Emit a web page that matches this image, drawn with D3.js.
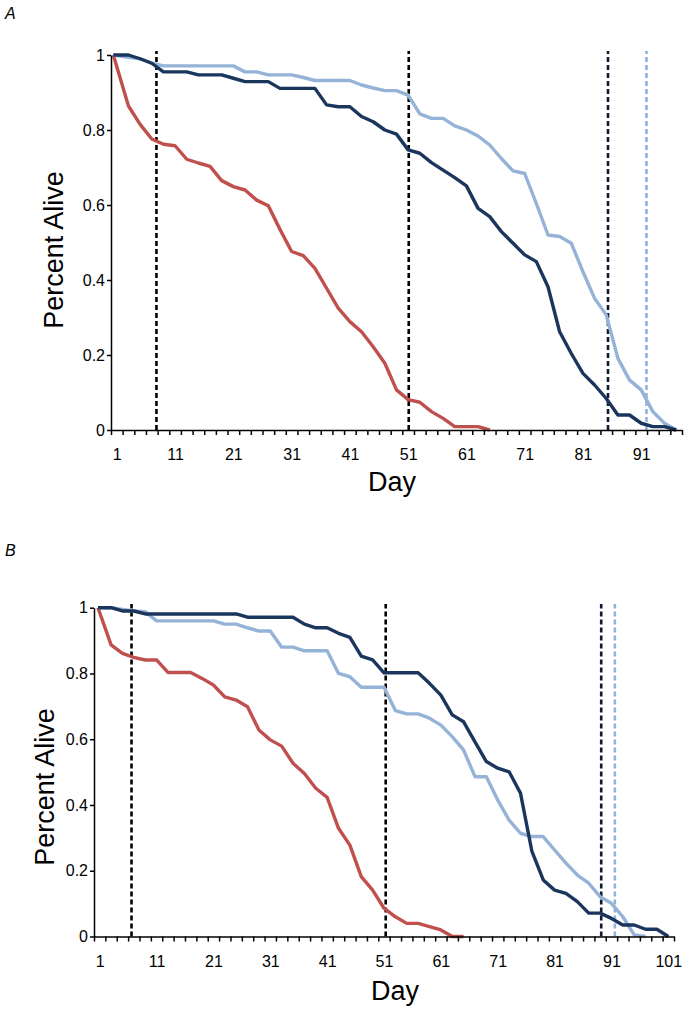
<!DOCTYPE html>
<html>
<head>
<meta charset="utf-8">
<script src="https://cdn.jsdelivr.net/npm/d3@7"></script>
<style>
  html, body { margin: 0; padding: 0; background: #fff; }
  svg { display: block; font-family: Arial, "Liberation Sans", sans-serif; }
</style>
</head>
<body>
<svg id="chart" width="689" height="1010"></svg>
<script>
// ---------- Panel A data ----------
const daysA = [0.4,3,5,7,9,11,13,15,17,19,21,23,25,27,29,31,33,35,37,39,41,43,45,47,49,51,53,55,57,59,61,63,65,67,69,71,73,75,77,79,81,83,85,87,89,91,93,95,97];
const redA = [1,0.864,0.815,0.776,0.762,0.758,0.722,0.712,0.703,0.665,0.649,0.64,0.613,0.598,0.535,0.476,0.465,0.431,0.378,0.325,0.289,0.262,0.222,0.178,0.107,0.081,0.074,0.049,0.031,0.009,0.009,0.009,0,null,null,null,null,null,null,null,null,null,null,null,null,null,null,null,null];
const navyA = [1,1,0.99,0.978,0.955,0.955,0.955,0.947,0.947,0.947,0.938,0.929,0.929,0.929,0.911,0.911,0.911,0.911,0.867,0.862,0.862,0.836,0.822,0.8,0.789,0.747,0.738,0.713,0.693,0.673,0.651,0.591,0.569,0.529,0.498,0.467,0.449,0.382,0.262,0.204,0.151,0.12,0.084,0.04,0.04,0.018,0.009,0.009,0];
const lightA = [1,0.994,0.99,0.978,0.971,0.971,0.971,0.971,0.971,0.971,0.971,0.955,0.955,0.947,0.947,0.947,0.94,0.932,0.932,0.932,0.932,0.92,0.912,0.905,0.905,0.893,0.843,0.831,0.831,0.811,0.8,0.784,0.76,0.724,0.691,0.684,0.604,0.52,0.516,0.498,0.422,0.351,0.307,0.191,0.133,0.107,0.049,0.018,0];
const refDaysA = [7.8, 51.1, 85.3, 91.9];

// ---------- Panel B data ----------
const daysB = [0.7,3,5,7,9,11,13,15,17,19,21,23,25,27,29,31,33,35,37,39,41,43,45,47,49,51,53,55,57,59,61,63,65,67,69,71,73,75,77,79,81,83,85,87,89,91,93,95,97,99,101];
const redB = [1,0.887,0.861,0.849,0.841,0.841,0.803,0.803,0.803,0.785,0.765,0.729,0.719,0.699,0.628,0.598,0.579,0.527,0.496,0.451,0.423,0.329,0.278,0.182,0.141,0.086,0.06,0.04,0.04,0.03,0.02,0,0,null,null,null,null,null,null,null,null,null,null,null,null,null,null,null,null,null,null];
const navyB = [1,1,0.99,0.99,0.981,0.981,0.981,0.981,0.981,0.981,0.981,0.981,0.981,0.971,0.971,0.971,0.971,0.971,0.95,0.939,0.939,0.922,0.91,0.853,0.841,0.802,0.802,0.802,0.802,0.77,0.734,0.674,0.653,0.592,0.532,0.512,0.501,0.436,0.26,0.172,0.141,0.131,0.106,0.071,0.071,0.055,0.035,0.035,0.022,0.022,0];
const lightB = [1,1,0.995,0.99,0.988,0.96,0.96,0.96,0.96,0.96,0.96,0.95,0.95,0.939,0.929,0.929,0.88,0.88,0.869,0.869,0.869,0.8,0.79,0.758,0.758,0.758,0.687,0.677,0.677,0.664,0.643,0.608,0.567,0.486,0.486,0.415,0.354,0.314,0.304,0.304,0.263,0.223,0.187,0.162,0.121,0.101,0.06,0.005,0,null,null];
const refDaysB = [6.6, 51.3, 89.2, 91.6];

// ---------- Tick labels ----------
const yTicks = [0, 0.2, 0.4, 0.6, 0.8, 1];
const xLabelsA = [1, 11, 21, 31, 41, 51, 61, 71, 81, 91];
const xLabelsB = [1, 11, 21, 31, 41, 51, 61, 71, 81, 91, 101];
const yTitle = "Percent Alive";
const xTitle = "Day";

const COL_RED = "#c0504d", COL_NAVY = "#1b365d", COL_LIGHT = "#95b3d7";
const refColors = ["#000000", "#000000", "#0d1b33", "#8fb3e0"];

const svg = d3.select("#chart");

function panel(cfg) {
  const g = svg.append("g");
  const x = d3.scaleLinear().domain(cfg.xDomain).range(cfg.xRange);
  const y = d3.scaleLinear().domain([0, 1]).range(cfg.yRange);

  // panel letter
  g.append("text").attr("x", 5).attr("y", cfg.letterY)
    .attr("font-size", 16).attr("font-style", "italic").text(cfg.letter);

  // reference dashed lines
  g.selectAll("line.ref").data(cfg.refs).enter().append("line")
    .attr("x1", d => x(d)).attr("x2", d => x(d))
    .attr("y1", y(0)).attr("y2", y(1.011))
    .attr("stroke", (d, i) => refColors[i])
    .attr("stroke-width", 2.6)
    .attr("stroke-dasharray", "5,3");

  // curves
  const series = [
    { v: cfg.red, c: COL_RED },
    { v: cfg.light, c: COL_LIGHT },
    { v: cfg.navy, c: COL_NAVY }
  ];
  const line = d3.line()
    .defined(d => d[1] != null)
    .x(d => x(d[0])).y(d => y(d[1]));
  series.forEach(s => {
    g.append("path")
      .datum(cfg.days.map((d, i) => [d, s.v[i]]))
      .attr("fill", "none").attr("stroke", s.c)
      .attr("stroke-width", 3.4).attr("stroke-linejoin", "round")
      .attr("d", line);
  });

  // x axis: minor ticks
  const minorTicks = d3.range(0, Math.floor(cfg.xDomain[1]) + 1, 2);
  g.append("g").attr("transform", `translate(0,${y(0)})`)
    .call(d3.axisBottom(x).tickValues(minorTicks).tickFormat("").tickSize(5).tickSizeOuter(0))
    .call(a => a.selectAll("path,line").attr("stroke", "#000").attr("stroke-width", 1.5));
  // x axis labels
  g.append("g").attr("transform", `translate(0,${y(0)})`)
    .call(d3.axisBottom(x).tickValues(cfg.xLabels).tickSize(0).tickPadding(19).tickSizeOuter(0))
    .call(a => a.select(".domain").remove())
    .call(a => a.selectAll("text").attr("font-size", 16).attr("fill", "#000")
      .attr("font-family", "Arial, 'Liberation Sans', sans-serif"));

  // y axis
  g.append("g").attr("transform", `translate(${cfg.xRange[0]},0)`)
    .call(d3.axisLeft(y).tickValues(yTicks)
      .tickFormat(d => d === 0 ? "0" : d === 1 ? "1" : d3.format(".1f")(d))
      .tickSize(4).tickPadding(2).tickSizeOuter(0))
    .call(a => a.selectAll("path,line").attr("stroke", "#000").attr("stroke-width", 1.5))
    .call(a => a.selectAll("text").attr("font-size", 16).attr("fill", "#000")
      .attr("font-family", "Arial, 'Liberation Sans', sans-serif"));

  // titles
  g.append("text")
    .attr("transform", `translate(${cfg.yTitleX},${cfg.yTitleY}) rotate(-90)`)
    .attr("text-anchor", "middle").attr("font-size", 27).text(yTitle);
  g.append("text")
    .attr("x", cfg.xTitleX).attr("y", cfg.xTitleY)
    .attr("text-anchor", "middle").attr("font-size", 27).text(xTitle);
}

panel({
  letter: "A", letterY: 19,
  xDomain: [0, 98], xRange: [111, 682], yRange: [430, 55],
  days: daysA, red: redA, navy: navyA, light: lightA, refs: refDaysA,
  xLabels: xLabelsA, yTitleX: 63, yTitleY: 250, xTitleX: 392, xTitleY: 491
});
panel({
  letter: "B", letterY: 556,
  xDomain: [0, 102], xRange: [94, 674], yRange: [936.5, 607.7],
  days: daysB, red: redB, navy: navyB, light: lightB, refs: refDaysB,
  xLabels: xLabelsB, yTitleX: 54, yTitleY: 787, xTitleX: 395, xTitleY: 1000
});
</script>
</body>
</html>
